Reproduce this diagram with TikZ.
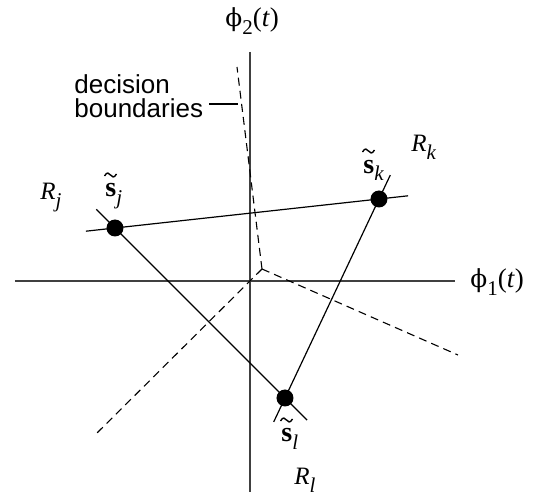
\documentclass[tikz,border=0pt]{standalone}
\usepackage{fontspec}
\setmainfont{Liberation Serif}
\setsansfont{Liberation Sans}
\newfontfamily\phifont[Scale=0.92]{DejaVu Serif}
\usetikzlibrary{calc}

\newcommand{\lowidx}[1]{\raisebox{-4pt}{\fontsize{10.5}{11}\selectfont #1}}
\newcommand{\sig}[1]{{\fontsize{14}{15}\selectfont\textbf{s}}\lowidx{\textit{#1}}}
\newcommand{\reg}[1]{\textit{R}\lowidx{\textit{#1}}}
\newcommand{\basis}[1]{{\phifont ϕ}\lowidx{#1}(\textit{t})}

\begin{document}
\begin{tikzpicture}[x = 0.5pt, y = -0.5pt,
		axis/.style = {draw = black!75, line width = 0.7pt},
		side/.style = {line width = 0.6pt},
		bound/.style = {line width = 0.55pt, dash pattern = on 4pt off 2.6pt},
		dot/.style = {circle, fill = black, inner sep = 0pt, minimum size = 8.5pt},
		lbl/.style = {font = \fontsize{12.5}{13}\selectfont, inner sep = 0pt, anchor = base west},
		tld/.pic = {\draw [line width = 0.7pt] (-6,1) .. controls (-3.5,-3.5) and (-1.5,-2) .. (0,0) .. controls (1.5,2) and (3.5,3.5) .. (6,-1);}]
		\useasboundingbox (0,0) rectangle (548,498);

		% axes
		\draw [axis] (15,281) -- (455,281);
		\draw [axis] (250,52) -- (250,492);
		\node [lbl, font = \fontsize{13.5}{14}\selectfont] (phi2) at (225,26) {\basis{2}};
		\node [lbl, font = \fontsize{13.5}{14}\selectfont] (phi1) at (470,287) {\basis{1}};

		% signal points
		\node [dot] (sj) at (115,228) {};
		\node [dot] (sk) at (379,199) {};
		\node [dot] (sl) at (285,398) {};
		\draw [side] ($(sj)!-0.11!(sk)$) -- ($(sk)!-0.11!(sj)$);
		\draw [side] ($(sj)!-0.11!(sl)$) -- ($(sl)!-0.13!(sj)$);
		\draw [side] ($(sk)!-0.12!(sl)$) -- ($(sl)!-0.12!(sk)$);

		\node [lbl] (labj) at (105,197) {\sig{j}};
		\node [lbl] (labk) at (363,173) {\sig{k}};
		\node [lbl] (labl) at (281,442) {\sig{l}};
		\foreach \n in {labj, labk, labl}
			\pic at ($(\n.base west) + (5.5,-22)$) {tld};
		\node [lbl] (regj) at (40,199) {\reg{j}};
		\node [lbl] (regk) at (411,152) {\reg{k}};
		\node [lbl] (regl) at (294,485) {\reg{l}};

		% decision boundaries
		\coordinate (c) at (262,269);
		\coordinate (bup) at (237,67);
		\draw [bound] (c) -- (bup);
		\draw [bound] (c) -- (97,433);
		\draw [bound] (c) -- (458,355);
		\node [font = \sffamily\fontsize{13}{12}\selectfont, align = left, anchor = north west, inner sep = 3pt] (db) at (68,68) {decision\\boundaries};
		\coordinate (tip) at (238,104);
		\draw [side] (db.east |- tip) -- (tip);
	\end{tikzpicture}
\end{document}
